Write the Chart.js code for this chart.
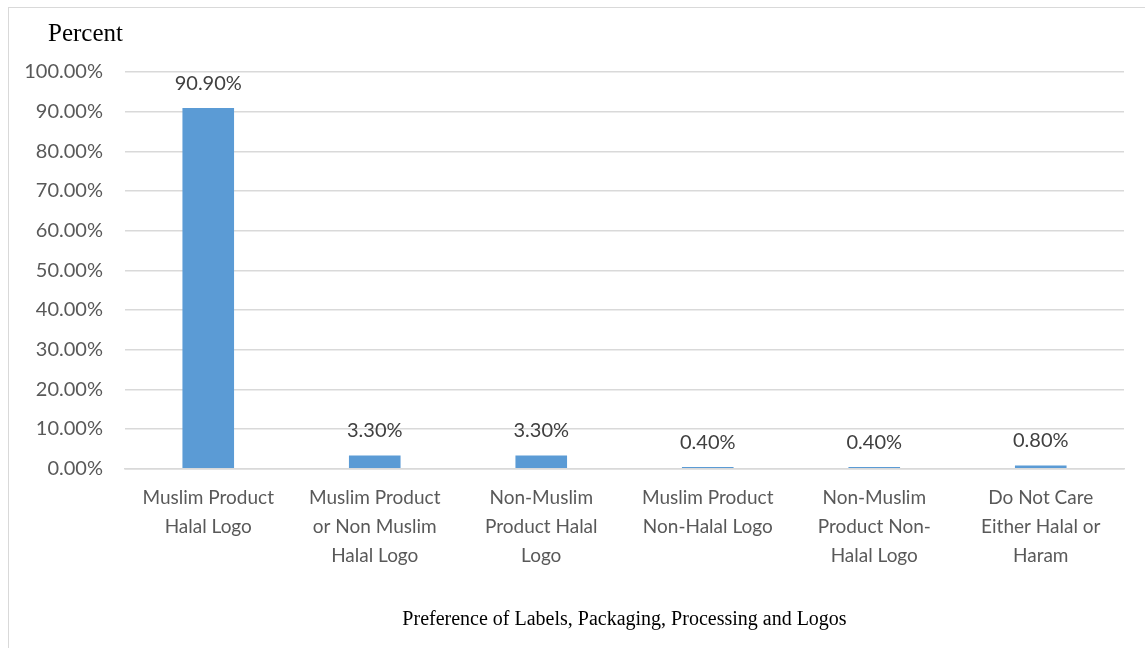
<!DOCTYPE html>
<html>
<head>
<meta charset="utf-8">
<script src="https://cdn.jsdelivr.net/npm/chart.js@4.4.1/dist/chart.umd.min.js"></script>
<style>
    html, body { margin: 0; padding: 0; background: #fff; }
    #wrap { position: relative; width: 1145px; height: 648px; overflow: hidden; }
    #frame { position: absolute; left: 8px; top: 7px; width: 1160px; height: 700px;
             border: 1px solid #d9d9d9; box-sizing: border-box; pointer-events: none; }
    canvas { position: absolute; left: 0; top: 0; }
</style>
</head>
<body>
<div id="wrap">
    <canvas id="prefChart" width="1145" height="648"></canvas>
    <div id="frame"></div>
</div>
<script>
// ===================== Data =====================
const categories = [
    ['Muslim Product', 'Halal Logo'],
    ['Muslim Product', 'or Non Muslim', 'Halal Logo'],
    ['Non-Muslim', 'Product Halal', 'Logo'],
    ['Muslim Product', 'Non-Halal Logo'],
    ['Non-Muslim', 'Product Non-', 'Halal Logo'],
    ['Do Not Care', 'Either Halal or', 'Haram']
];
const percentValues = [90.9, 3.3, 3.3, 0.4, 0.4, 0.8];
const yAxisLabel = 'Percent';
const xAxisLabel = 'Preference of Labels, Packaging, Processing and Logos';

const sansFont = "Lato, 'Open Sans', sans-serif";
const serifFont = "'Liberation Serif', 'DejaVu Serif', serif";

// ===================== Plugins =====================
// value labels above each bar
const barValueLabels = {
    id: 'barValueLabels',
    afterDatasetsDraw(chart) {
        const { ctx } = chart;
        const meta = chart.getDatasetMeta(0);
        ctx.save();
        ctx.font = '20px ' + sansFont;
        ctx.fillStyle = '#404040';
        ctx.textAlign = 'center';
        ctx.textBaseline = 'middle';
        meta.data.forEach((bar, i) => {
            ctx.fillText(percentValues[i].toFixed(2) + '%', bar.x, bar.y - 25);
        });
        ctx.restore();
    }
};

// "Percent" caption over the y axis
const axisCaption = {
    id: 'axisCaption',
    afterDraw(chart) {
        const { ctx, chartArea } = chart;
        ctx.save();
        ctx.font = '25px ' + serifFont;
        ctx.fillStyle = '#000';
        ctx.textAlign = 'left';
        ctx.textBaseline = 'middle';
        ctx.fillText(yAxisLabel, chartArea.left - 77, chartArea.top - 38);
        ctx.restore();
    }
};

// ===================== Chart =====================
const ctx = document.getElementById('prefChart').getContext('2d');
new Chart(ctx, {
    type: 'bar',
    data: {
        labels: categories,
        datasets: [{
            data: percentValues,
            backgroundColor: '#5b9bd5',
            borderWidth: 0,
            barPercentage: 0.62,
            categoryPercentage: 0.5
        }]
    },
    options: {
        responsive: false,
        animation: false,
        layout: { padding: { top: 72, left: 14, right: 21, bottom: 12 } },
        plugins: {
            legend: { display: false },
            tooltip: { enabled: false }
        },
        scales: {
            y: {
                min: 0,
                max: 100,
                afterFit(scale) { scale.width = 111; },
                ticks: {
                    stepSize: 10,
                    padding: 22,
                    color: '#595959',
                    font: { family: sansFont, size: 20 },
                    callback: v => v.toFixed(2) + '%'
                },
                grid: { color: '#d9d9d9', lineWidth: 1.5, drawTicks: false },
                border: { display: false }
            },
            x: {
                ticks: {
                    maxRotation: 0,
                    autoSkip: false,
                    padding: 14,
                    color: '#595959',
                    font: { family: sansFont, size: 19, lineHeight: 1.55 }
                },
                grid: { display: false, drawTicks: false },
                border: { color: '#d9d9d9', width: 1.5 },
                title: {
                    display: true,
                    text: xAxisLabel,
                    color: '#000',
                    padding: { top: 23 },
                    font: { family: serifFont, size: 20 }
                }
            }
        }
    },
    plugins: [barValueLabels, axisCaption]
});
</script>
</body>
</html>
